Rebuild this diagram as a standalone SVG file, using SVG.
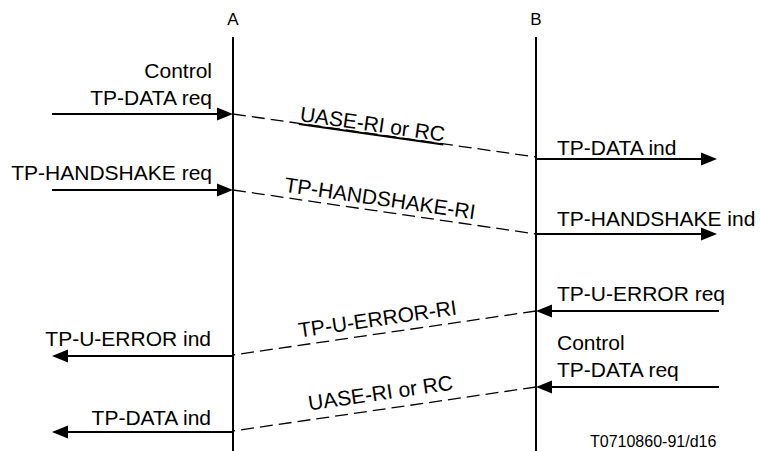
<svg xmlns="http://www.w3.org/2000/svg" width="760" height="451" viewBox="0 0 760 451">
<style>
text{font-family:"Liberation Sans",Arial,sans-serif;fill:#000}
.t{font-size:21px}
.h{font-size:17px}
.s{font-size:16px}
.life{stroke:#000;stroke-width:2;fill:none}
.arr{stroke:#000;stroke-width:2;fill:none;marker-end:url(#ah)}
.dash{stroke:#000;stroke-width:1.3;fill:none;stroke-dasharray:13 6}
</style>
<defs>
<marker id="ah" markerUnits="userSpaceOnUse" markerWidth="16" markerHeight="13" refX="12" refY="6.5" orient="auto" overflow="visible">
<path d="M0,0 L16,6.5 L0,13 Z" fill="#000"/>
</marker>
</defs>
<rect width="760" height="451" fill="#fff"/>
<g id="lifeline-A">
<text class="h" x="233" y="25" text-anchor="middle">A</text>
<line class="life" x1="233" y1="37" x2="233" y2="451"/>
</g>
<g id="lifeline-B">
<text class="h" x="536" y="25" text-anchor="middle">B</text>
<line class="life" x1="536" y1="37" x2="536" y2="451"/>
</g>
<g id="connectors">
<line class="arr" x1="52" y1="114" x2="229" y2="114"/>
<line class="arr" x1="52" y1="190" x2="229" y2="190"/>
<line class="arr" x1="536" y1="159" x2="713" y2="159"/>
<line class="arr" x1="536" y1="234" x2="713" y2="234"/>
<line class="arr" x1="719" y1="311" x2="540" y2="311"/>
<line class="arr" x1="719" y1="387" x2="540" y2="387"/>
<line class="arr" x1="233" y1="356" x2="56" y2="356"/>
<line class="arr" x1="233" y1="432" x2="56" y2="432"/>
<line class="dash" x1="233" y1="114" x2="536" y2="157"/>
<line class="dash" x1="233" y1="190" x2="536" y2="234"/>
<line class="dash" x1="536" y1="311" x2="233" y2="355"/>
<line class="dash" x1="536" y1="387" x2="233" y2="431"/>
</g>
<g id="labels">
<text class="t" x="212" y="78" text-anchor="end">Control</text>
<text class="t" x="212" y="105" text-anchor="end">TP-DATA req</text>
<text class="t" x="212" y="180" text-anchor="end">TP-HANDSHAKE req</text>
<text class="t" x="211" y="346" text-anchor="end">TP-U-ERROR ind</text>
<text class="t" x="211" y="425" text-anchor="end">TP-DATA ind</text>
<text class="t" x="557" y="155">TP-DATA ind</text>
<text class="t" x="557" y="226">TP-HANDSHAKE ind</text>
<text class="t" x="557" y="301">TP-U-ERROR req</text>
<text class="t" x="557" y="350">Control</text>
<text class="t" x="557" y="377">TP-DATA req</text>
<text class="t" x="371.5" y="131.2" text-anchor="middle" text-decoration="underline" transform="rotate(8.1 371.5 131.2)">UASE-RI or RC</text>
<text class="t" x="379" y="205.5" text-anchor="middle" transform="rotate(8.26 379 205.5)">TP-HANDSHAKE-RI</text>
<text class="t" x="378.5" y="326" text-anchor="middle" transform="rotate(-8.3 378.5 326)">TP-U-ERROR-RI</text>
<text class="t" x="381.5" y="400" text-anchor="middle" transform="rotate(-8.3 381.5 400)">UASE-RI or RC</text>
<text class="s" x="590" y="447">T0710860-91/d16</text>
</g>
</svg>
